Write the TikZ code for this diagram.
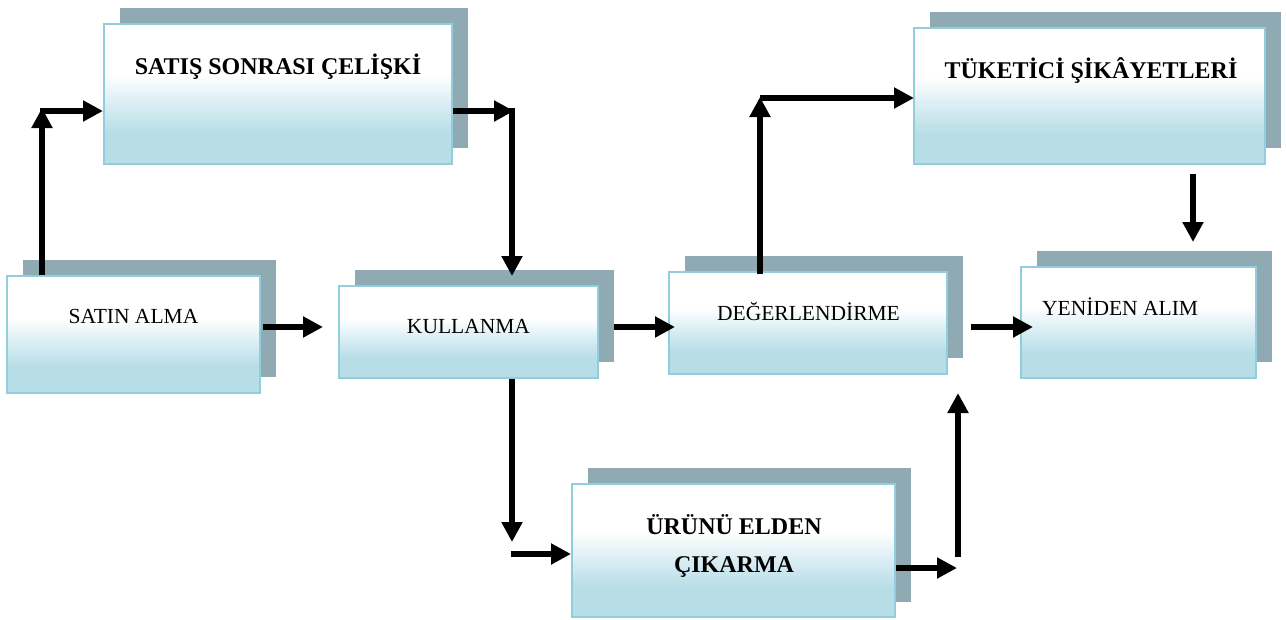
\documentclass[tikz,border=0pt]{standalone}
\usepackage{fontspec}
\setmainfont{Liberation Serif}
\usetikzlibrary{arrows.meta,fit}

\definecolor{shadowgray}{RGB}{143,170,178}
\definecolor{boxblue}{RGB}{183,221,231}
\definecolor{boxmid}{RGB}{222,240,245}
\definecolor{boxedge}{RGB}{146,205,221}

% white at the top, fading into light blue towards the bottom
\pgfdeclareverticalshading{boxfade}{100bp}{color(0bp)=(boxblue); color(36bp)=(boxblue); color(48bp)=(boxmid); color(57bp)=(white); color(100bp)=(white)}

\begin{document}
\begin{tikzpicture}[x=1pt,y=-1pt,
  shadowbox/.style={fill=shadowgray, draw=none, inner sep=0pt},
  frontbox/.style={shading=boxfade, draw=boxedge, line width=2pt, inner sep=0pt},
  plainlbl/.style={font=\fontsize{21.5}{25}\selectfont, anchor=base, inner sep=0pt},
  boldlbl/.style={font=\fontsize{24}{28}\selectfont\bfseries, anchor=base, inner sep=0pt},
  arr/.style={line width=6pt, -{Triangle[length=20pt,width=20pt]}}
]
\useasboundingbox (0,0) rectangle (1286,619);

% ---- shadows ----
\node[shadowbox, fit={(120,8) (468,148)}]     (satisS) {};
\node[shadowbox, fit={(930,12) (1281,148)}]   (tukS)   {};
\node[shadowbox, fit={(23,260) (276,377)}]    (satinS) {};
\node[shadowbox, fit={(355,270) (614,362)}]   (kullS)  {};
\node[shadowbox, fit={(685,256) (963,358)}]   (degS)   {};
\node[shadowbox, fit={(1037,251) (1272,362)}] (yenS)   {};
\node[shadowbox, fit={(588,468) (911,602)}]   (urunS)  {};

% ---- boxes ----
\node[frontbox, fit={(104,24) (452,164)}]     (satis) {};
\node[frontbox, fit={(914,28) (1265,164)}]    (tuk)   {};
\node[frontbox, fit={(7,276) (260,393)}]      (satin) {};
\node[frontbox, fit={(339,286) (598,378)}]    (kull)  {};
\node[frontbox, fit={(669,272) (947,374)}]    (deg)   {};
\node[frontbox, fit={(1021,267) (1256,378)}]  (yen)   {};
\node[frontbox, fit={(572,484) (895,617)}]    (urun)  {};

% ---- labels ----
\node[boldlbl]  (satisT) at (278,74)  {SATIŞ SONRASI ÇELİŞKİ};
\node[boldlbl]  (tukT)   at (1091,78) {TÜKETİCİ ŞİKÂYETLERİ};
\node[plainlbl] (satinT) at (133.5,323) {SATIN ALMA};
\node[plainlbl] (kullT)  at (468.5,333) {KULLANMA};
\node[plainlbl] (degT)   at (808.5,320) {DEĞERLENDİRME};
\node[plainlbl, anchor=base west] (yenT) at (1042,315) {YENİDEN ALIM};
\node[boldlbl]  (urunTa) at (734,534) {ÜRÜNÜ ELDEN};
\node[boldlbl]  (urunTb) at (734,572) {ÇIKARMA};

% ---- connector points ----
\coordinate (upA)    at (42,108);
\coordinate (rightA) at (40,111);
\coordinate (rightB) at (514,111);
\coordinate (downB)  at (512,108);
\coordinate (kullIn) at (512,276);
\coordinate (rowM)   at (0,327);
\coordinate (kullL)  at (323,327);
\coordinate (degL)   at (675,327);
\coordinate (yenL)   at (1033,327);
\coordinate (degOut) at (971,327);
\coordinate (downC)  at (512,542);
\coordinate (rightC) at (511,554);
\coordinate (rightD) at (957,568);
\coordinate (upD0)   at (958,557);
\coordinate (upD)    at (958,393);
\coordinate (upE)    at (760,97);
\coordinate (rightE) at (760,98);
\coordinate (tukOut) at (1193,174);
\coordinate (yenIn)  at (1193,242);

% ---- connectors ----
\draw[arr] (satin.north -| upA) -- (upA);
\draw[arr] (rightA) -- (satis.west |- rightA);
\draw[arr] (satis.east |- rightB) -- (rightB);
\draw[arr] (downB) -- (kullIn);
\draw[arr] ([xshift=2pt]satin.east |- rowM) -- (kullL);
\draw[arr] (kullS.east |- rowM) -- (degL);
\draw[arr] (degOut) -- (yenL);
\draw[arr] (kull.south -| downB) -- (downC);
\draw[arr] (rightC) -- (urun.west |- rightC);
\draw[arr] (urun.east |- rightD) -- (rightD);
\draw[arr] (upD0) -- (upD);
\draw[arr] ([yshift=-3pt]deg.north -| upE) -- (upE);
\draw[arr] (rightE) -- ([xshift=1pt]tuk.west |- rightE);
\draw[arr] (tukOut) -- (yenIn);
\end{tikzpicture}
\end{document}
